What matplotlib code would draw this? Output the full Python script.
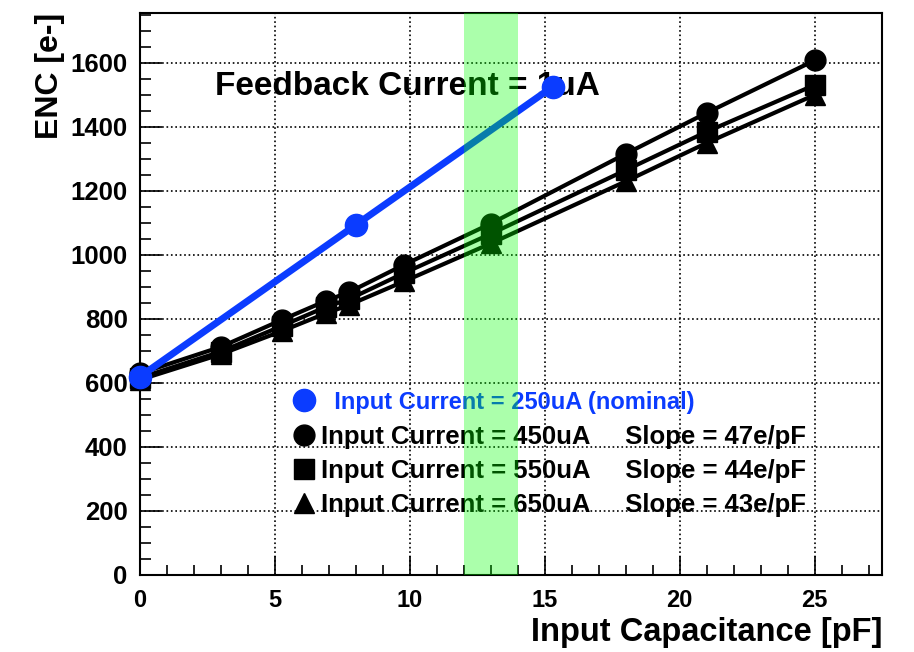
import matplotlib.pyplot as plt
from matplotlib.lines import Line2D
from matplotlib.ticker import MultipleLocator

plt.rcParams["font.family"] = ["Liberation Sans", "DejaVu Sans"]
plt.rcParams["font.weight"] = "bold"

# Input capacitance [pF]
cap = [0, 3, 5.25, 6.9, 7.75, 9.8, 13, 18, 21, 25]
# ENC [e-] for each input current
enc_450 = [630, 713, 797, 857, 884, 970, 1098, 1316, 1444, 1608]
enc_550 = [616, 698, 778, 838, 862, 944, 1066, 1265, 1385, 1531]
enc_650 = [610, 690, 762, 818, 844, 918, 1036, 1230, 1350, 1500]

# nominal 250uA
cap_nom = [0, 8, 15.3]
enc_nom = [620, 1094, 1526]

band = (12, 14)

fig = plt.figure(figsize=(9.14, 6.52), dpi=100)
ax = fig.add_axes([0.1532, 0.1181, 0.8118, 0.8619])

ax.plot(cap, enc_650, color="black", lw=3, marker="^", ms=15, clip_on=False, zorder=3)
ax.plot(cap, enc_550, color="black", lw=3, marker="s", ms=14, clip_on=False, zorder=3)
ax.plot(cap, enc_450, color="black", lw=3, marker="o", ms=15, clip_on=False, zorder=3)
ax.plot(cap_nom, enc_nom, color="#0b3cff", lw=5, marker="o", ms=16, clip_on=False, zorder=6)

ax.text(2.78, 1525, "Feedback Current = 1uA", fontsize=24, fontweight="bold",
        va="center", ha="left", zorder=5)

handles = [
    Line2D([], [], color="#0b3cff", marker="o", ms=16, ls=""),
    Line2D([], [], color="black", marker="o", ms=15, ls=""),
    Line2D([], [], color="black", marker="s", ms=14, ls=""),
    Line2D([], [], color="black", marker="^", ms=15, ls=""),
]
labels = [
    "  Input Current = 250uA (nominal)",
    "Input Current = 450uA     Slope = 47e/pF",
    "Input Current = 550uA     Slope = 44e/pF",
    "Input Current = 650uA     Slope = 43e/pF",
]
leg = ax.legend(handles, labels, loc="upper left", bbox_to_anchor=(0.207, 0.327),
                frameon=False, handlelength=0.8, handletextpad=0.25,
                labelspacing=0.4, borderpad=0, borderaxespad=0,
                prop={"size": 18.5, "weight": "bold"})
leg.set_zorder(5)
leg.get_texts()[0].set_color("#0b3cff")
leg.get_texts()[0].set_fontsize(17)

ax.axvspan(band[0], band[1], color=(0, 1, 0), alpha=0.33, lw=0, zorder=10)

ax.set_xlim(0, 27.5)
ax.set_ylim(0, 1756)
ax.xaxis.set_major_locator(MultipleLocator(5))
ax.xaxis.set_minor_locator(MultipleLocator(1))
ax.yaxis.set_major_locator(MultipleLocator(200))
ax.yaxis.set_minor_locator(MultipleLocator(50))
ax.tick_params(which="both", direction="in", top=False, right=False, width=1.2)
ax.tick_params(axis="y", which="major", length=16, pad=9, labelsize=18.5)
ax.tick_params(axis="y", which="minor", length=8)
ax.tick_params(axis="x", which="major", length=14, pad=10, labelsize=17)
ax.tick_params(axis="x", which="minor", length=7)
for lab in ax.get_xticklabels() + ax.get_yticklabels():
    lab.set_fontweight("bold")
for sp in ax.spines.values():
    sp.set_linewidth(1.5)
ax.grid(True, which="major", ls=":", color="black", lw=1.2)
ax.set_axisbelow(True)

ax.set_xlabel("Input Capacitance [pF]", fontsize=23.5, fontweight="bold", loc="right")
ax.set_ylabel("ENC [e-]", fontsize=23, fontweight="bold", loc="top")
ax.xaxis.set_label_coords(1.0, -0.075)
ax.xaxis.label.set_va("top")
ax.yaxis.set_label_coords(-0.101, 1.0)

fig.savefig("out.png", dpi=100)
